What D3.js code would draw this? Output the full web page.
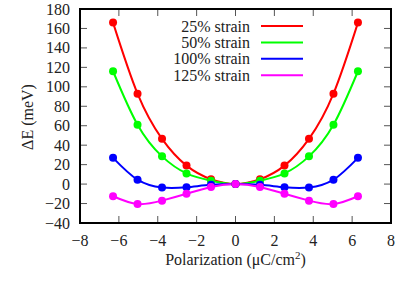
<!DOCTYPE html>
<html><head><meta charset="utf-8">
<script src="https://cdn.jsdelivr.net/npm/d3@7"></script>
<style>body{margin:0;background:#fff}svg{display:block}svg text{font-family:"Liberation Serif",serif}</style>
</head><body><svg id="c" width="403" height="286"></svg>
<script>
const polarization = [-6.3, -5.04, -3.78, -2.52, -1.26, 0, 1.26, 2.52, 3.78, 5.04, 6.3];
const seriesNames = ["25% strain", "50% strain", "100% strain", "125% strain"];
const seriesColors = ["#ff0000", "#00ff00", "#0000ff", "#ff00ff"];
const strain25 = [166, 93, 46.5, 19, 5, 0, 5, 19, 46.5, 93, 166];
const strain50 = [116, 61, 28.5, 11, 3.5, 0, 3.5, 11, 28.5, 61, 116];
const strain100 = [27, 4.5, -3.5, -3.2, -0.8, 0, -0.8, -3.2, -3.5, 4.5, 27];
const strain125 = [-12.5, -20.5, -17, -10, -3, 0, -3, -10, -17, -20.5, -12.5];
const xTicks = [-8, -6, -4, -2, 0, 2, 4, 6, 8];
const yTicks = [-40, -20, 0, 20, 40, 60, 80, 100, 120, 140, 160, 180];
const allSeries = [strain25, strain50, strain100, strain125];

const svg = d3.select("#c");
const L = 80, R = 391, T = 9, B = 223;
const x = d3.scaleLinear().domain([-8, 8]).range([L, R]);
const y = d3.scaleLinear().domain([-40, 180]).range([B, T]);
const fmt = d3.format("");
const tickLen = 7;
const fs = 16;
const txt = "#222";
function T_(sel) { return sel.attr("font-size", fs).attr("fill", txt); }

const g = svg.append("g");
xTicks.forEach(t => {
  g.append("line").attr("x1", x(t)).attr("x2", x(t)).attr("y1", B).attr("y2", B - tickLen).attr("stroke", "#555").attr("stroke-width", 1);
  g.append("line").attr("x1", x(t)).attr("x2", x(t)).attr("y1", T).attr("y2", T + tickLen).attr("stroke", "#555").attr("stroke-width", 1);
  T_(g.append("text")).attr("x", x(t)).attr("y", 246).attr("text-anchor", "middle").text(fmt(t));
});
yTicks.forEach(t => {
  g.append("line").attr("x1", L).attr("x2", L + tickLen).attr("y1", y(t)).attr("y2", y(t)).attr("stroke", "#555").attr("stroke-width", 1);
  g.append("line").attr("x1", R).attr("x2", R - tickLen).attr("y1", y(t)).attr("y2", y(t)).attr("stroke", "#555").attr("stroke-width", 1);
  T_(g.append("text")).attr("x", 70).attr("y", y(t) + 5.5).attr("text-anchor", "end").text(fmt(t));
});

const line = d3.line().x(d => x(d[0])).y(d => y(d[1])).curve(d3.curveNatural);
allSeries.forEach((vals, i) => {
  const pts = polarization.map((p, j) => [p, vals[j]]);
  svg.append("path").attr("d", line(pts)).attr("fill", "none").attr("stroke", seriesColors[i]).attr("stroke-width", 2);
});
allSeries.forEach((vals, i) => {
  svg.append("g").selectAll("circle").data(polarization.map((p, j) => [p, vals[j]])).join("circle")
    .attr("cx", d => x(d[0])).attr("cy", d => y(d[1])).attr("r", 4).attr("fill", seriesColors[i]);
});

svg.append("rect").attr("x", L).attr("y", T).attr("width", R - L).attr("height", B - T)
  .attr("fill", "none").attr("stroke", "#000").attr("stroke-width", 2);

seriesNames.forEach((n, i) => {
  const yy = 26 + i * 16.4;
  T_(svg.append("text")).attr("x", 250).attr("y", yy + 5.5).attr("text-anchor", "end").text(n);
  svg.append("line").attr("x1", 261).attr("x2", 303).attr("y1", yy).attr("y2", yy).attr("stroke", seriesColors[i]).attr("stroke-width", 2);
});

const xl = T_(svg.append("text")).attr("x", x(0)).attr("y", 265).attr("text-anchor", "middle");
xl.append("tspan").text("Polarization (μC/cm");
xl.append("tspan").attr("dy", -6).attr("font-size", 11).text("2");
xl.append("tspan").attr("dy", 6).text(")");
T_(svg.append("text")).attr("transform", "translate(33,117) rotate(-90)").attr("text-anchor", "middle").text("ΔE (meV)");
</script></body></html>
